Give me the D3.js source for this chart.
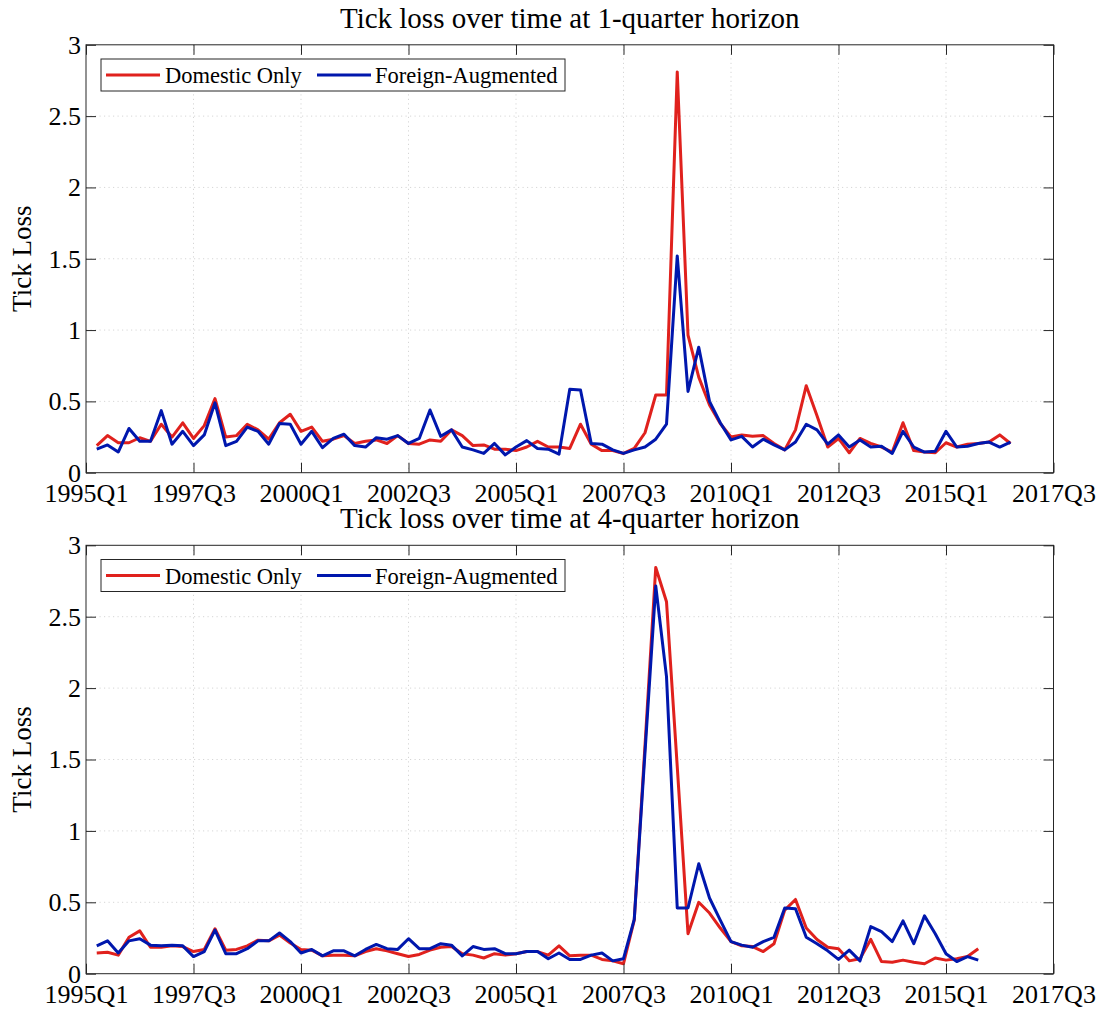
<!DOCTYPE html>
<html>
<head>
<meta charset="utf-8">
<script src="https://cdn.jsdelivr.net/npm/d3@7"></script>
<style>
  body { margin: 0; background: #fff; }
  text { font-family: "Liberation Serif", "Times New Roman", serif; fill: #000; }
</style>
</head>
<body>
<div id="chart"></div>
<script>
// x runs over quarter index: 0 = 1995Q1 ... 90 = 2017Q3, data starts at index 1 (1995Q2)
const tickLabels = ["1995Q1","1997Q3","2000Q1","2002Q3","2005Q1","2007Q3","2010Q1","2012Q3","2015Q1","2017Q3"]
const yTicks = [0, 0.5, 1, 1.5, 2, 2.5, 3]
const seriesNames = ["Domestic Only", "Foreign-Augmented"]
const titles = ["Tick loss over time at 1-quarter horizon", "Tick loss over time at 4-quarter horizon"]

// 1-quarter horizon
const domestic1 = [0.19,0.26,0.21,0.21,0.245,0.22,0.34,0.25,0.35,0.24,0.33,0.52,0.25,0.26,0.34,0.30,0.235,0.35,0.41,0.29,
  0.32,0.22,0.235,0.26,0.205,0.22,0.23,0.205,0.26,0.205,0.20,0.23,0.22,0.30,0.26,0.19,0.195,0.165,0.165,0.155,
  0.18,0.22,0.18,0.18,0.17,0.34,0.20,0.155,0.155,0.135,0.17,0.28,0.545,0.545,2.81,0.965,0.67,0.475,0.345,0.25,
  0.265,0.255,0.26,0.205,0.16,0.30,0.61,0.40,0.18,0.24,0.14,0.24,0.205,0.18,0.145,0.35,0.155,0.145,0.14,0.21,
  0.18,0.20,0.205,0.215,0.265,0.205]
const foreign1 = [0.165,0.195,0.145,0.31,0.22,0.22,0.435,0.20,0.29,0.19,0.265,0.49,0.19,0.22,0.32,0.29,0.20,0.345,0.34,0.20,
  0.29,0.175,0.24,0.27,0.19,0.18,0.245,0.235,0.26,0.205,0.24,0.44,0.255,0.30,0.18,0.16,0.135,0.205,0.125,0.18,
  0.225,0.17,0.165,0.13,0.585,0.58,0.205,0.20,0.16,0.135,0.16,0.18,0.235,0.34,1.52,0.57,0.88,0.50,0.35,0.23,
  0.255,0.18,0.235,0.195,0.16,0.215,0.34,0.30,0.20,0.265,0.18,0.23,0.18,0.185,0.135,0.29,0.18,0.145,0.15,0.29,
  0.18,0.185,0.205,0.215,0.18,0.215]

// 4-quarter horizon
const domestic4 = [0.145,0.15,0.13,0.255,0.30,0.185,0.185,0.195,0.19,0.155,0.17,0.315,0.165,0.17,0.195,0.235,0.23,0.27,0.215,0.17,
  0.165,0.125,0.13,0.13,0.125,0.155,0.175,0.16,0.14,0.12,0.135,0.165,0.185,0.19,0.14,0.13,0.11,0.14,0.13,0.14,
  0.155,0.155,0.13,0.195,0.125,0.13,0.13,0.10,0.09,0.07,0.375,1.6,2.845,2.605,1.45,0.28,0.50,0.425,0.32,0.225,
  0.195,0.19,0.155,0.21,0.445,0.52,0.32,0.24,0.185,0.175,0.09,0.105,0.24,0.085,0.08,0.095,0.08,0.07,0.11,0.095,
  0.105,0.12,0.175]
const foreign4 = [0.195,0.23,0.145,0.23,0.245,0.20,0.195,0.20,0.195,0.12,0.155,0.305,0.14,0.14,0.175,0.23,0.23,0.285,0.225,0.145,
  0.17,0.125,0.16,0.16,0.125,0.17,0.205,0.175,0.17,0.245,0.175,0.175,0.21,0.20,0.125,0.19,0.17,0.175,0.14,0.14,
  0.155,0.155,0.105,0.145,0.10,0.10,0.13,0.145,0.09,0.105,0.38,1.55,2.715,2.08,0.46,0.46,0.77,0.53,0.375,0.225,
  0.20,0.185,0.225,0.255,0.46,0.455,0.255,0.21,0.16,0.10,0.165,0.09,0.33,0.295,0.225,0.37,0.21,0.405,0.28,0.14,
  0.085,0.12,0.095]

const width = 1102
const height = 1012
const left = 86, right = 1053.5
const panels = [
  {top: 44.8, bottom: 472.7, title: titles[0], data: [domestic1, foreign1]},
  {top: 545.3, bottom: 973.7, title: titles[1], data: [domestic4, foreign4]}
]
const colors = ["#e0211d", "#0017ad"]
const axisColor = "#262626"
const tickLen = 10

const svg = d3.select("#chart").append("svg")
  .attr("xmlns", "http://www.w3.org/2000/svg")
  .attr("width", width)
  .attr("height", height)
  .style("background-color", "#ffffff")

const x = d3.scaleLinear().domain([0, 90]).range([left, right])
const xTickVals = d3.range(0, 91, 10)

panels.forEach(p => {
  const y = d3.scaleLinear().domain([0, 3]).range([p.bottom, p.top])
  const g = svg.append("g")

  // grid
  g.append("g").selectAll("line").data(xTickVals.slice(1, -1)).enter().append("line")
    .attr("x1", d => x(d)).attr("x2", d => x(d))
    .attr("y1", p.top).attr("y2", p.bottom)
    .attr("stroke", "#d6d6d6").attr("stroke-width", 1).attr("stroke-dasharray", "1.2,3.3")
  g.append("g").selectAll("line").data(yTicks.slice(1, -1)).enter().append("line")
    .attr("x1", left).attr("x2", right)
    .attr("y1", d => y(d)).attr("y2", d => y(d))
    .attr("stroke", "#d6d6d6").attr("stroke-width", 1).attr("stroke-dasharray", "1.2,3.3")

  // series
  const line = d3.line().x((d, i) => x(i + 1)).y(d => y(d))
  p.data.forEach((vals, k) => {
    g.append("path").datum(vals)
      .attr("d", line)
      .attr("fill", "none")
      .attr("stroke", colors[k])
      .attr("stroke-width", 3)
      .attr("stroke-linejoin", "round")
  })

  // axes, ticks point inward and mirror on top/right
  const xb = g.append("g").attr("transform", `translate(0,${p.bottom})`)
    .call(d3.axisBottom(x).tickValues(xTickVals).tickFormat((d, i) => tickLabels[i]).tickSizeInner(-tickLen).tickSizeOuter(0).tickPadding(11))
  const xt = g.append("g").attr("transform", `translate(0,${p.top})`)
    .call(d3.axisTop(x).tickValues(xTickVals).tickFormat("").tickSizeInner(-tickLen).tickSizeOuter(0))
  const yl = g.append("g").attr("transform", `translate(${left},0)`)
    .call(d3.axisLeft(y).tickValues(yTicks).tickFormat(d3.format("")).tickSizeInner(-tickLen).tickSizeOuter(0).tickPadding(5))
  const yr = g.append("g").attr("transform", `translate(${right},0)`)
    .call(d3.axisRight(y).tickValues(yTicks).tickFormat("").tickSizeInner(-tickLen).tickSizeOuter(0))

  ;[xb, xt, yl, yr].forEach(a => {
    a.select(".domain").remove()
    a.selectAll("line").attr("stroke", axisColor).attr("stroke-width", 1)
  })
  xb.selectAll("text").attr("font-size", 26).attr("dy", "0.7em").attr("fill", "#000")
    .style("font-family", "'Liberation Serif', serif")
  yl.selectAll("text").attr("font-size", 26).attr("fill", "#000")
    .style("font-family", "'Liberation Serif', serif")

  g.append("rect")
    .attr("x", left).attr("y", p.top)
    .attr("width", right - left).attr("height", p.bottom - p.top)
    .attr("fill", "none").attr("stroke", axisColor).attr("stroke-width", 1)

  // title
  g.append("text")
    .attr("x", (left + right) / 2).attr("y", p.top - 17)
    .attr("text-anchor", "middle")
    .attr("font-size", 29)
    .text(p.title)

  // y label
  g.append("text")
    .attr("transform", `translate(31,${(p.top + p.bottom) / 2}) rotate(-90)`)
    .attr("text-anchor", "middle")
    .attr("font-size", 27)
    .text("Tick Loss")

  // legend
  const lx = 101, ly = p.top + 14.2
  const lg = g.append("g")
  lg.append("rect").attr("x", lx).attr("y", ly).attr("width", 464).attr("height", 32)
    .attr("fill", "#fff").attr("stroke", axisColor).attr("stroke-width", 1)
  const items = [{x0: 106, tx: 165}, {x0: 317, tx: 375}]
  items.forEach((it, k) => {
    lg.append("line").attr("x1", it.x0).attr("x2", it.x0 + 54)
      .attr("y1", ly + 16).attr("y2", ly + 16)
      .attr("stroke", colors[k]).attr("stroke-width", 3)
    lg.append("text").attr("x", it.tx).attr("y", ly + 24)
      .attr("font-size", 22.5)
      .text(seriesNames[k])
  })
})
</script>
</body>
</html>
